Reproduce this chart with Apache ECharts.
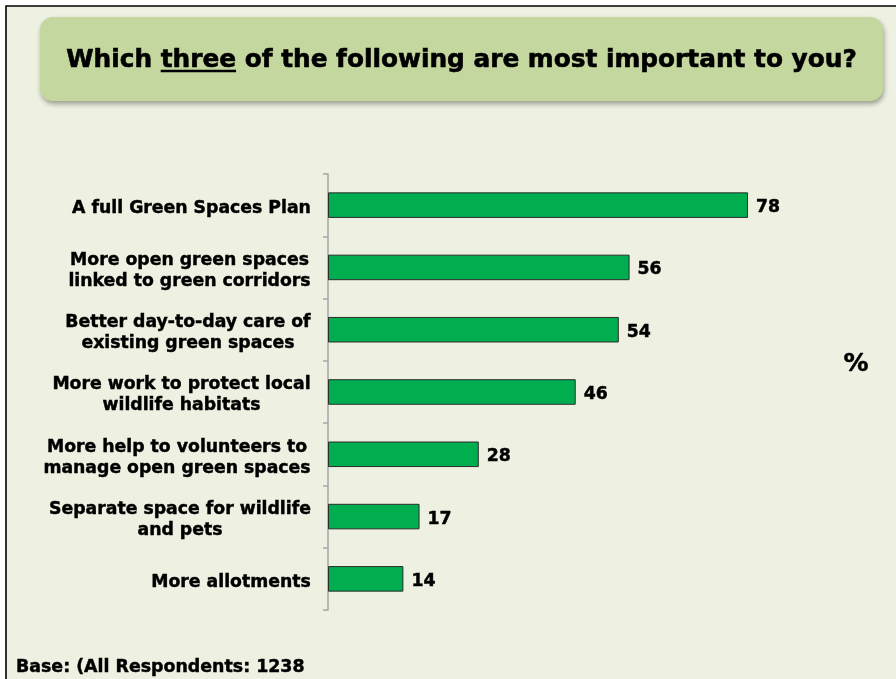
<!DOCTYPE html>
<html>
<head>
<meta charset="utf-8">
<script src="https://cdn.jsdelivr.net/npm/echarts@6/dist/echarts.min.js"></script>
<style>
  html, body { margin: 0; padding: 0; background: #ffffff; }
  #chart { width: 896px; height: 679px; }
</style>
</head>
<body>
<div id="chart"></div>
<script>
// Survey answers, listed top to bottom
const categories = [
  'A full Green Spaces Plan',
  'More open green spaces\nlinked to green corridors',
  'Better day-to-day care of\nexisting green spaces',
  'More work to protect local\nwildlife habitats',
  'More help to volunteers to\nmanage open green spaces',
  'Separate space for wildlife\nand pets',
  'More allotments'
];
// Percentage of respondents choosing each option
const percentages = [78, 56, 54, 46, 28, 17, 14];

const titleBefore = 'Which ';
const titleUnderlined = 'three';
const titleAfter = ' of the following are most important to you?';
const unitLabel = '%';
const baseNote = 'Base: (All Respondents: 1238';

const FONT = '"DejaVu Sans", Verdana, sans-serif';
const LABEL_SIZE = 17.3;
const TITLE_SIZE = 24.8;
// a hairline outline gives the heavier bold look
const HEAVY = { textBorderColor: '#000', textBorderWidth: 0.45 };

// Text measuring, used to centre multi-line labels and place the title underline
const measureCtx = document.createElement('canvas').getContext('2d');
function textWidth(str, size) {
  measureCtx.font = 'bold ' + size + 'px ' + FONT;
  return measureCtx.measureText(str).width;
}

// One rich style per category so every line is centred within its own block
const labelRich = {};
categories.forEach((c, i) => {
  const w = Math.max(...c.split('\n').map(l => textWidth(l, LABEL_SIZE)));
  labelRich['c' + i] = Object.assign({
    width: Math.ceil(w),
    align: 'center',
    fontFamily: FONT,
    fontSize: LABEL_SIZE,
    fontWeight: 'bold',
    lineHeight: 21,
    color: '#000'
  }, HEAVY);
});

const chart = echarts.init(document.getElementById('chart'));

const titleCx = 461.5;
const fullTitleW = textWidth(titleBefore + titleUnderlined + titleAfter, TITLE_SIZE);
const titleLeft = titleCx - fullTitleW / 2;
const ulStart = titleLeft + textWidth(titleBefore, TITLE_SIZE);
const ulEnd = ulStart + textWidth(titleUnderlined, TITLE_SIZE);

chart.setOption({
  backgroundColor: '#ffffff',
  animation: false,
  graphic: [
    {
      type: 'rect', z: -10, silent: true,
      shape: { x: 6, y: 6, width: 900, height: 690 },
      style: { fill: '#eef1e1', stroke: '#000', lineWidth: 1.6 }
    },
    {
      type: 'rect', z: -5, silent: true,
      shape: { x: 40, y: 17, width: 843, height: 84, r: 13 },
      style: {
        fill: '#c4d79f',
        shadowBlur: 5, shadowOffsetX: 1, shadowOffsetY: 3,
        shadowColor: 'rgba(0,0,0,0.35)'
      }
    },
    {
      type: 'text', silent: true,
      x: titleCx, y: 60.5,
      style: {
        text: titleBefore + titleUnderlined + titleAfter,
        fontFamily: FONT, fontSize: TITLE_SIZE, fontWeight: 'bold',
        fill: '#000', align: 'center', verticalAlign: 'middle',
        stroke: '#000', lineWidth: 0.6
      }
    },
    {
      type: 'line', silent: true,
      shape: { x1: ulStart, y1: 71, x2: ulEnd, y2: 71 },
      style: { stroke: '#000', lineWidth: 2.5 }
    },
    {
      type: 'text', silent: true,
      x: 856, y: 364,
      style: {
        text: unitLabel, fontFamily: FONT, fontSize: 25, fontWeight: 'bold',
        fill: '#000', align: 'center', verticalAlign: 'middle',
        stroke: '#000', lineWidth: 0.5
      }
    },
    {
      type: 'text', silent: true,
      x: 16, y: 667,
      style: {
        text: baseNote, fontFamily: FONT, fontSize: 17.4, fontWeight: 'bold',
        fill: '#000', align: 'left', verticalAlign: 'middle',
        stroke: '#000', lineWidth: 0.45
      }
    }
  ],
  grid: { left: 328, top: 174, width: 538.5, height: 436, containLabel: false },
  xAxis: {
    type: 'value', min: 0, max: 100, show: false
  },
  yAxis: {
    type: 'category',
    inverse: true,
    data: categories,
    axisLine: { show: true, lineStyle: { color: '#a6a6a6', width: 1.5 } },
    axisTick: { show: true, length: 5, lineStyle: { color: '#a6a6a6', width: 1.5 } },
    splitLine: { show: false },
    axisLabel: {
      margin: 17,
      padding: [7, 0, 0, 0],
      formatter: (value, idx) =>
        value.split('\n').map(l => '{c' + idx + '|' + l + '}').join('\n'),
      rich: labelRich
    }
  },
  series: [{
    type: 'bar',
    data: percentages,
    barWidth: '41%',
    itemStyle: { color: '#00ae50', borderColor: '#2b2b2b', borderWidth: 1 },
    label: Object.assign({
      show: true, position: 'right', distance: 8, offset: [0, 2.5],
      fontFamily: FONT, fontSize: LABEL_SIZE, fontWeight: 'bold', color: '#000',
      formatter: '{c}'
    }, HEAVY)
  }]
});
</script>
</body>
</html>
